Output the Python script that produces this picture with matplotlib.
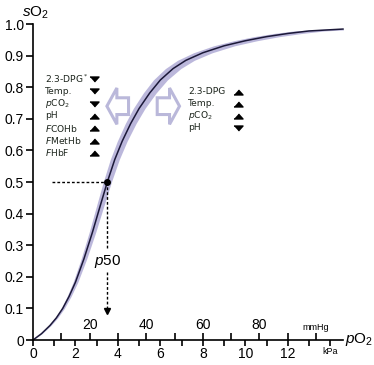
import matplotlib.pyplot as plt
from matplotlib.patches import FancyArrow

plt.rcParams['font.family'] = 'Liberation Sans'
plt.rcParams['mathtext.fontset'] = 'custom'
plt.rcParams['mathtext.rm'] = 'Liberation Sans'
plt.rcParams['mathtext.it'] = 'Liberation Sans:italic'

# oxygen dissociation curve (pO2 in kPa, sO2 fraction)
po2_kpa = [0, 0.4, 0.8, 1.1, 1.4, 1.7, 2.0, 2.4, 2.8, 3.15, 3.5, 3.85, 4.2, 4.6, 5.0,
           5.5, 6.0, 6.6, 7.2, 8.0, 9.0, 10.0, 11.0, 12.0, 13.0, 14.6]
so2 = [0, 0.02, 0.046, 0.07, 0.10, 0.138, 0.183, 0.257, 0.341, 0.421, 0.50, 0.571, 0.629,
       0.685, 0.733, 0.782, 0.823, 0.859, 0.885, 0.909, 0.931, 0.947, 0.96, 0.97, 0.978, 0.984]
p50_kpa = 3.5
p50_so2 = 0.5

left_factors = ['2.3-DPG$^*$', 'Temp.', '$p$CO$_2$', 'pH', '$F$COHb', '$F$MetHb', '$F$HbF']
left_dirs = ['down', 'down', 'down', 'up', 'up', 'up', 'up']
right_factors = ['2.3-DPG', 'Temp.', '$p$CO$_2$', 'pH']
right_dirs = ['up', 'up', 'up', 'down']

y_ticks = [0, 0.1, 0.2, 0.3, 0.4, 0.5, 0.6, 0.7, 0.8, 0.9, 1.0]
y_labels = ['0', '0.1', '0.2', '0.3', '0.4', '0.5', '0.6', '0.7', '0.8', '0.9', '1.0']
kpa_major = [0, 2, 4, 6, 8, 10, 12, 14]
kpa_labels = ['0', '2', '4', '6', '8', '10', '12', 'kPa']
kpa_minor = [1, 3, 5, 7, 9, 11, 13]
mmhg_major = [20, 40, 60, 80, 100]
mmhg_labels = ['20', '40', '60', '80', 'mmHg']
mmhg_minor = [10, 30, 50, 70, 90]

band_color = '#b4b0d8'
line_color = '#1b1838'
text_color = '#1e261e'
arrow_color = '#bab8da'
band_frac = 0.055

tri_up = [(-1, -0.55), (1, -0.55), (0, 0.55)]
tri_down = [(-1, 0.55), (1, 0.55), (0, -0.55)]

fig = plt.figure(figsize=(3.74, 3.65), dpi=100)
ax = fig.add_axes([33 / 374, 25 / 365, 310 / 374, 316 / 365])

# band + curve
lo = [x * (1 - band_frac) for x in po2_kpa]
hi = [x * (1 + band_frac) for x in po2_kpa]
ax.fill_betweenx(so2, lo, hi, color=band_color, lw=0, alpha=0.9)
ax.plot(po2_kpa, so2, color=line_color, lw=1.1, clip_on=False)

# p50 guides
ax.plot([0.9, p50_kpa], [p50_so2, p50_so2], color='black', lw=1, ls=(0, (2, 1.5)))
ax.plot([p50_kpa, p50_kpa], [p50_so2, 0.285], color='black', lw=1, ls=(0, (2, 1.5)))
ax.plot([p50_kpa, p50_kpa], [0.215, 0.1], color='black', lw=1, ls=(0, (2, 1.5)))
ax.plot([p50_kpa], [0.092], marker='v', color='black', ms=5)
ax.plot([p50_kpa], [p50_so2], marker='o', color='black', ms=4)
ax.text(p50_kpa, 0.248, '$p$50', fontsize=11, ha='center', va='center')

# factor lists
for i, (lab, d) in enumerate(zip(left_factors, left_dirs)):
    yy = 0.826 - i * 0.039
    ax.text(0.57, yy, lab, fontsize=6.6, color=text_color, va='center', ha='left',
            family='DejaVu Sans', math_fontfamily='dejavusans')
    ax.plot([2.86], [yy], marker=tri_up if d == 'up' else tri_down, color='black', ms=6.5)
for i, (lab, d) in enumerate(zip(right_factors, right_dirs)):
    yy = 0.786 - i * 0.038
    ax.text(7.31, yy, lab, fontsize=6.6, color=text_color, va='center', ha='left',
            family='DejaVu Sans', math_fontfamily='dejavusans')
    ax.plot([9.67], [yy], marker=tri_up if d == 'up' else tri_down, color='black', ms=6.5)

# hollow shift arrows
ax.add_patch(FancyArrow(4.5, 0.74, -1.02, 0, width=0.053, head_width=0.115, head_length=0.47,
                        length_includes_head=True, fc='white', ec=arrow_color, lw=2.2))
ax.add_patch(FancyArrow(5.85, 0.74, 1.05, 0, width=0.053, head_width=0.115, head_length=0.47,
                        length_includes_head=True, fc='white', ec=arrow_color, lw=2.2))

ax.set_xlim(0, 14.6)
ax.set_ylim(0, 1.0)
for s in ['top', 'right']:
    ax.spines[s].set_visible(False)
for s in ['left', 'bottom']:
    ax.spines[s].set_linewidth(1.2)

ax.set_yticks(y_ticks, labels=y_labels)
ax.set_xticks(kpa_major, labels=kpa_labels)
ax.set_xticks(kpa_minor, minor=True)
ax.tick_params(axis='y', length=5, width=1.2, labelsize=10, pad=1.5)
ax.tick_params(axis='x', which='both', length=4, width=1.2, labelsize=10, pad=1)
ax.get_xticklabels()[-1].set_fontsize(6.5)

sec = ax.secondary_xaxis(0, functions=(lambda k: k * 7.50062, lambda m: m / 7.50062))
sec.set_alignment('top')
sec.spines['top'].set_visible(False)
sec.set_xticks(mmhg_major, labels=mmhg_labels)
sec.set_xticks(mmhg_minor, minor=True)
sec.tick_params(which='both', direction='out', length=5, width=1.2, labelsize=10, pad=1)
sec.get_xticklabels()[-1].set_fontsize(6.5)

ax.text(0.14, 1.037, '$s$O$_2$', fontsize=11, ha='center', va='center', clip_on=False)
ax.text(14.7, 0.0, '$p$O$_2$', fontsize=11, ha='left', va='center', clip_on=False)

fig.savefig('out.png', dpi=100)
